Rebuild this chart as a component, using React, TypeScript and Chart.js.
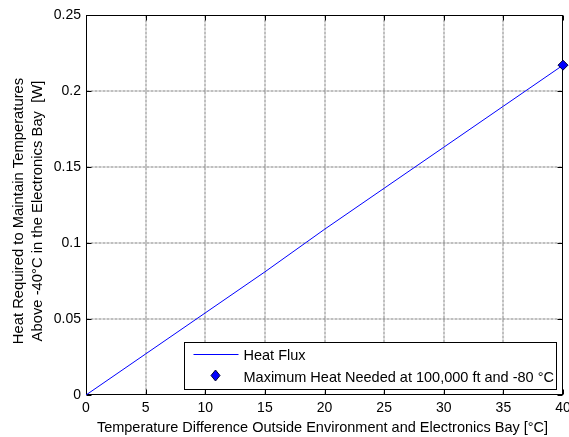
import React, { useEffect, useRef } from "react";
import { Chart, registerables } from "chart.js";

Chart.register(...registerables);

const tempDiff = [0, 5, 10, 15, 20, 25, 30, 35, 40];
const heatFlux = [0, 0.027, 0.054, 0.081, 0.109, 0.136, 0.163, 0.19, 0.217];
const maxPoint = { x: 40, y: 0.217 };
const xTicks = [0, 5, 10, 15, 20, 25, 30, 35, 40];
const yTicks = [0, 0.05, 0.1, 0.15, 0.2, 0.25];
const seriesLabels = ["Heat Flux", "Maximum Heat Needed at 100,000 ft and -80 \u00B0C"];
const xTitle = "Temperature Difference Outside Environment and Electronics Bay [\u00B0C]";
const yTitle = ["Heat Required to Maintain Temperatures", "Above -40\u00B0C in the Electronics Bay  [W]"];

const FONT = "'Liberation Sans', Arial, sans-serif";
const BLUE = "#0000ff";

const framePlugin = {
  id: "frame",
  beforeDatasetsDraw(chart: any) {
    const { ctx, chartArea: a, scales } = chart;
    const x = scales.x, y = scales.y;
    const L = Math.round(a.left) + 0.5, R = Math.round(a.right) - 0.5;
    const T = Math.round(a.top) + 0.5, B = Math.round(a.bottom) - 0.5;
    ctx.save();
    ctx.lineWidth = 1;
    ctx.strokeStyle = "rgba(0,0,0,0.5)";
    ctx.setLineDash([3, 1]);
    xTicks.forEach((v) => {
      const px = Math.round(x.getPixelForValue(v));
      if (px <= L + 1 || px >= R - 1) return;
      ctx.beginPath(); ctx.moveTo(px, T); ctx.lineTo(px, B); ctx.stroke();
    });
    yTicks.forEach((v) => {
      const py = Math.round(y.getPixelForValue(v));
      if (py <= T + 1 || py >= B - 1) return;
      ctx.beginPath(); ctx.moveTo(L, py); ctx.lineTo(R, py); ctx.stroke();
    });
    ctx.setLineDash([]);
    ctx.strokeStyle = "#000";
    ctx.strokeRect(L, T, R - L, B - T);
    const tl = 5;
    xTicks.forEach((v) => {
      const px = Math.round(x.getPixelForValue(v)) + 0.5;
      ctx.beginPath(); ctx.moveTo(px, B); ctx.lineTo(px, B - tl); ctx.stroke();
      ctx.beginPath(); ctx.moveTo(px, T); ctx.lineTo(px, T + tl); ctx.stroke();
    });
    yTicks.forEach((v) => {
      const py = Math.round(y.getPixelForValue(v)) + 0.5;
      ctx.beginPath(); ctx.moveTo(L, py); ctx.lineTo(L + tl, py); ctx.stroke();
      ctx.beginPath(); ctx.moveTo(R, py); ctx.lineTo(R - tl, py); ctx.stroke();
    });
    ctx.restore();
  },
  afterDatasetsDraw(chart: any) {
    const { ctx, chartArea: a } = chart;
    const left = Math.round(a.right) - 379 + 0.5;
    const right = Math.round(a.right) - 7 + 0.5;
    const top = Math.round(a.bottom) - 53 + 0.5;
    const bottom = Math.round(a.bottom) - 6 + 0.5;
    ctx.save();
    ctx.fillStyle = "#fff";
    ctx.fillRect(left, top, right - left, bottom - top);
    ctx.lineWidth = 1;
    ctx.strokeStyle = "#000";
    ctx.strokeRect(left, top, right - left, bottom - top);
    const row1 = top + 12;
    const row2 = top + 33;
    ctx.strokeStyle = BLUE;
    ctx.beginPath(); ctx.moveTo(left + 9, row1); ctx.lineTo(left + 54, row1); ctx.stroke();
    const dx = left + 31, dy = row2;
    ctx.beginPath();
    ctx.moveTo(dx, dy - 5.5); ctx.lineTo(dx + 4.5, dy); ctx.lineTo(dx, dy + 5.5); ctx.lineTo(dx - 4.5, dy); ctx.closePath();
    ctx.fillStyle = BLUE; ctx.fill();
    ctx.strokeStyle = "#000033"; ctx.stroke();
    ctx.fillStyle = "#000";
    ctx.font = `14.5px ${FONT}`;
    ctx.textBaseline = "middle";
    ctx.textAlign = "left";
    ctx.fillText(seriesLabels[0], left + 59, row1 + 1);
    ctx.fillText(seriesLabels[1], left + 59, row2 + 2);

    // axis titles
    ctx.textAlign = "center";
    ctx.fillText(xTitle, (a.left + a.right) / 2 - 2, a.bottom + 33);
    ctx.font = `14.8px ${FONT}`;
    const cy = (a.top + a.bottom) / 2 + 6;
    ctx.translate(19, cy);
    ctx.rotate(-Math.PI / 2);
    ctx.fillText(yTitle[0], 0, 0);
    ctx.fillText(yTitle[1], 0, 18.5);
    ctx.restore();
  },
};

export default function App() {
  const ref = useRef<HTMLCanvasElement | null>(null);
  useEffect(() => {
    if (!ref.current) return;
    const chart = new Chart(ref.current, {
      type: "scatter",
      data: {
        datasets: [
          {
            label: seriesLabels[0],
            data: tempDiff.map((t, i) => ({ x: t, y: heatFlux[i] })),
            showLine: true,
            borderColor: BLUE,
            borderWidth: 1,
            pointRadius: 0,
            fill: false,
            order: 2,
          },
          {
            label: seriesLabels[1],
            data: [maxPoint],
            showLine: false,
            pointStyle: "rectRot",
            pointRadius: 5,
            backgroundColor: BLUE,
            borderColor: "#000033",
            borderWidth: 1,
            clip: false as any,
            order: 1,
          },
        ],
      },
      options: {
        animation: false,
        responsive: false,
        layout: { padding: { top: 15, right: 2, left: 0, bottom: 0 } },
        plugins: { legend: { display: false }, tooltip: { enabled: false } },
        scales: {
          x: {
            type: "linear",
            min: 0,
            max: 40,
            grid: { display: false, drawTicks: false },
            border: { display: false },
            ticks: {
              stepSize: 5,
              padding: 5,
              color: "#000",
              font: { family: FONT, size: 14 },
              maxRotation: 0,
            },
            afterFit(s: any) {
              s.height = 42;
              s.paddingLeft = 0;
              s.paddingRight = 0;
            },
          },
          y: {
            type: "linear",
            min: 0,
            max: 0.25,
            grid: { display: false, drawTicks: false },
            border: { display: false },
            ticks: {
              stepSize: 0.05,
              padding: 5,
              color: "#000",
              font: { family: FONT, size: 14 },
              callback: (v: any) => String(Number(Number(v).toFixed(2))),
            },
            afterFit(s: any) {
              s.width = 86;
              s.paddingTop = 0;
              s.paddingBottom = 0;
            },
          },
        },
      },
      plugins: [framePlugin],
    });
    return () => chart.destroy();
  }, []);
  return (
    <div style={{ position: "absolute", left: 0, top: 0, width: 569, height: 437, background: "#fff" }}>
      <canvas ref={ref} width={569} height={437} />
    </div>
  );
}
